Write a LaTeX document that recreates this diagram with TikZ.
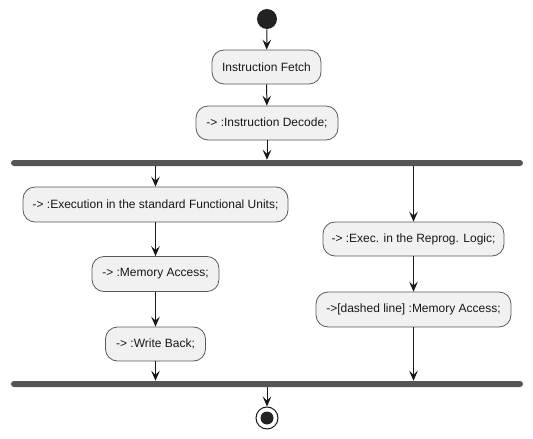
\documentclass[tikz,border=0pt]{standalone}
\usepackage{fontspec}
\setmainfont{Liberation Sans}
\usetikzlibrary{arrows.meta}
\definecolor{boxfill}{HTML}{F1F1F1}
\definecolor{boxline}{HTML}{5A5A5A}
\definecolor{barcol}{HTML}{555555}
\definecolor{ink}{HTML}{181818}
\definecolor{dot}{HTML}{222222}
\tikzset{
  act/.style={draw=boxline, line width=0.6pt, fill=boxfill, rounded corners=9pt,
    minimum height=34*0.75pt, inner sep=0pt, font=\fontsize{9}{11}\selectfont, text=ink},
  bar/.style={fill=barcol, rounded corners=2.25pt, minimum height=6*0.75pt,
    minimum width=512*0.75pt, inner sep=0pt},
  arr/.style={draw=ink, line width=0.75pt, -{Stealth[length=7.5pt, width=6.5pt, inset=3pt]}}
}
\begin{document}
\begin{tikzpicture}[x=0.75pt, y=-0.75pt]
\useasboundingbox (0,0) rectangle (533,439);
\node[circle, fill=dot, minimum size=20*0.75pt, inner sep=0pt] (start) at (267,19) {};
\node[act, minimum width=109*0.75pt] (fetch) at (266.5,67) {Instruction Fetch};
\node[act, minimum width=142*0.75pt] (decode) at (267,123) {-> :Instruction Decode;};
\node[bar] (fork) at (267,163) {};
\node[act, minimum width=265*0.75pt, minimum height=35*0.75pt] (exec) at (155.5,204.5) {-> :Execution in the standard Functional Units;};
\node[act, minimum width=127*0.75pt, minimum height=35*0.75pt] (mem) at (155.5,274) {-> :Memory Access;};
\node[act, minimum width=100*0.75pt] (wb) at (155.5,344) {-> :Write Back;};
\node[act, minimum width=181*0.75pt] (reprog) at (413.5,239) {-> :Exec. in the Reprog. Logic;};
\node[act, minimum width=195*0.75pt, minimum height=35*0.75pt] (dmem) at (413.5,309.5) {->[dashed line] :Memory Access;};
\node[bar] (join) at (267,384) {};
\node[circle, draw=ink, line width=0.75pt, fill=white, minimum size=22*0.75pt, inner sep=0pt] (stop) at (267,418) {};
\node[circle, fill=dot, minimum size=13*0.75pt, inner sep=0pt] (stopin) at (stop.center) {};
\draw[arr] (start) -- (fetch);
\draw[arr] (fetch) -- (decode);
\draw[arr] (decode) -- (fork);
\draw[arr] (fork.south -| exec.north) -- (exec);
\draw[arr] (exec) -- (mem);
\draw[arr] (mem) -- (wb);
\draw[arr] (wb) -- (join.north -| wb.south);
\draw[arr] (fork.south -| reprog.north) -- (reprog);
\draw[arr] (reprog) -- (dmem);
\draw[arr] (dmem) -- (join.north -| dmem.south);
\draw[arr] (join) -- (stop);
\end{tikzpicture}
\end{document}
